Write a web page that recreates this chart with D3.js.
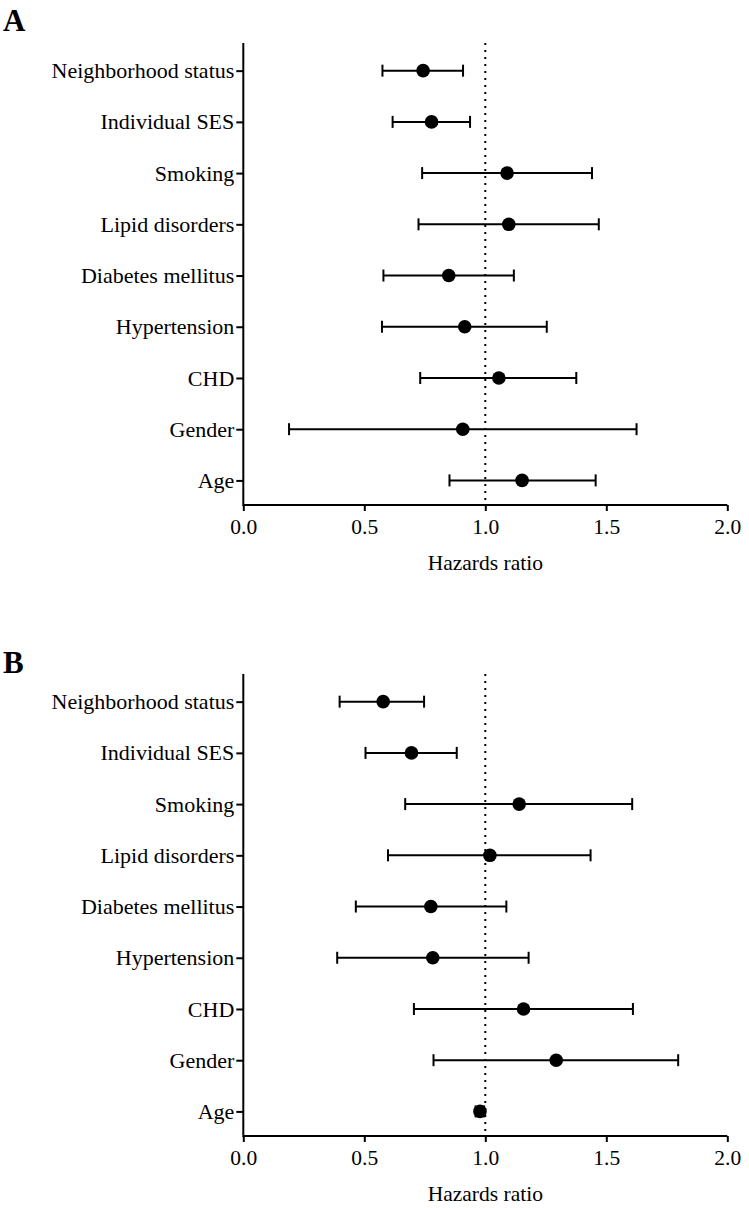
<!DOCTYPE html>
<html>
<head>
<meta charset="utf-8">
<script src="https://cdn.jsdelivr.net/npm/d3@7"></script>
<style>
  html, body { margin: 0; padding: 0; background: #fff; }
  svg { display: block; }
  text { font-family: "Liberation Serif", "Times New Roman", serif; fill: #000; }
</style>
</head>
<body>
<svg id="chart" width="749" height="1208"></svg>
<script>
const categories = ["Neighborhood status", "Individual SES", "Smoking", "Lipid disorders",
  "Diabetes mellitus", "Hypertension", "CHD", "Gender", "Age"];
const xTicks = [0.0, 0.5, 1.0, 1.5, 2.0];
const xTickLabels = ["0.0", "0.5", "1.0", "1.5", "2.0"];
const panelLabels = ["A", "B"];
const xTitle = "Hazards ratio";
const refLine = 1.0;

// Panel A
const hrA   = [0.743, 0.778, 1.090, 1.097, 0.849, 0.915, 1.056, 0.907, 1.152];
const lowA  = [0.575, 0.617, 0.739, 0.724, 0.579, 0.573, 0.731, 0.189, 0.852];
const highA = [0.908, 0.937, 1.441, 1.469, 1.118, 1.254, 1.376, 1.625, 1.456];
// Panel B
const hrB   = [0.578, 0.695, 1.140, 1.019, 0.775, 0.783, 1.158, 1.293, 0.978];
const lowB  = [0.398, 0.505, 0.669, 0.598, 0.465, 0.388, 0.705, 0.786, 0.960];
const highB = [0.747, 0.882, 1.607, 1.435, 1.087, 1.179, 1.610, 1.797, 0.995];

const panels = [
  { label: panelLabels[0], hr: hrA, low: lowA, high: highA, top: 43, bottom: 505, labelY: 31 },
  { label: panelLabels[1], hr: hrB, low: lowB, high: highB, top: 674, bottom: 1136, labelY: 673 }
];

const svg = d3.select("#chart");
const x = d3.scaleLinear().domain([0, 2]).range([243.3, 727.3]);

panels.forEach(p => {
  const g = svg.append("g");
  const y = d3.scaleLinear().domain([-0.54, 8.48]).range([p.top, p.bottom]);
  const rows = categories.map((c, i) => ({ c, i, hr: p.hr[i], lo: p.low[i], hi: p.high[i] }));

  // panel letter
  g.append("text").attr("x", 3).attr("y", p.labelY)
    .attr("font-size", 31).attr("font-weight", "bold").text(p.label);

  // reference dotted line
  g.append("line")
    .attr("x1", x(refLine)).attr("x2", x(refLine))
    .attr("y1", p.top).attr("y2", p.bottom)
    .attr("stroke", "#000").attr("stroke-width", 2)
    .attr("stroke-dasharray", "2,5");

  // x axis
  const xAxis = d3.axisBottom(x).tickValues(xTicks)
    .tickFormat((d, i) => xTickLabels[i]).tickSize(6).tickPadding(8);
  const gx = g.append("g").attr("transform", `translate(0,${p.bottom})`).call(xAxis);
  gx.select(".domain").attr("stroke-width", 2).attr("d", `M${x(0)},0H${x(2)}`);
  gx.selectAll(".tick line").attr("stroke-width", 2);
  gx.selectAll(".tick text").attr("font-size", 21.5)
    .attr("font-family", "Liberation Serif, Times New Roman, serif");

  // y axis
  const yAxis = d3.axisLeft(y).tickValues(d3.range(categories.length))
    .tickFormat(i => categories[i]).tickSize(7).tickPadding(2);
  const gy = g.append("g").attr("transform", `translate(${x(0)},0)`).call(yAxis);
  gy.select(".domain").attr("stroke-width", 2).attr("d", `M0,${p.top}V${p.bottom + 1}`);
  gy.selectAll(".tick line").attr("stroke-width", 2);
  gy.selectAll(".tick text").attr("font-size", 22)
    .attr("font-family", "Liberation Serif, Times New Roman, serif");

  // axis title
  g.append("text").attr("x", x(1)).attr("y", p.bottom + 65)
    .attr("text-anchor", "middle").attr("font-size", 21.5).text(xTitle);

  // error bars
  const eb = g.append("g").attr("stroke", "#000").attr("stroke-width", 2);
  eb.selectAll(".whisker").data(rows).join("line").attr("class", "whisker")
    .attr("x1", d => x(d.lo)).attr("x2", d => x(d.hi))
    .attr("y1", d => y(d.i)).attr("y2", d => y(d.i));
  eb.selectAll(".capL").data(rows).join("line").attr("class", "capL")
    .attr("x1", d => x(d.lo)).attr("x2", d => x(d.lo))
    .attr("y1", d => y(d.i) - 6).attr("y2", d => y(d.i) + 6);
  eb.selectAll(".capR").data(rows).join("line").attr("class", "capR")
    .attr("x1", d => x(d.hi)).attr("x2", d => x(d.hi))
    .attr("y1", d => y(d.i) - 6).attr("y2", d => y(d.i) + 6);

  // points
  g.selectAll(".pt").data(rows).join("circle").attr("class", "pt")
    .attr("cx", d => x(d.hr)).attr("cy", d => y(d.i)).attr("r", 6.8).attr("fill", "#000");
});
</script>
</body>
</html>
